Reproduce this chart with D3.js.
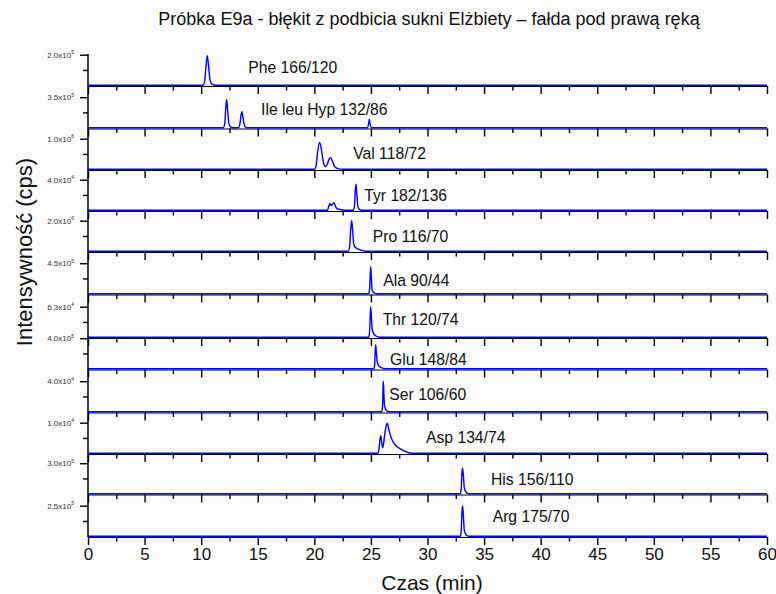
<!DOCTYPE html>
<html>
<head>
<meta charset="utf-8">
<script src="https://cdnjs.cloudflare.com/ajax/libs/d3/7.8.5/d3.min.js"></script>
<style>
body { margin: 0; background: #fbfbfb; }
text { font-family: Arial, "Liberation Sans", sans-serif; }
</style>
</head>
<body>
<div id="chart"></div>
<script>
// channels, top to bottom
var names = ["Phe 166/120", "Ile leu Hyp 132/86", "Val 118/72", "Tyr 182/136", "Pro 116/70", "Ala 90/44",
	"Thr 120/74", "Glu 148/84", "Ser 106/60", "Asp 134/74", "His 156/110", "Arg 175/70"];
var topValue = [2.0e5, 3.5e5, 1.0e6, 4.0e4, 2.0e6, 4.5e5, 6.3e4, 4.0e5, 4.0e4, 1.0e4, 3.0e5, 2.5e5];
var topMant = ["2.0", "3.5", "1.0", "4.0", "2.0", "4.5", "6.3", "4.0", "4.0", "1.0", "3.0", "2.5"];
var topExp = ["5", "5", "6", "4", "6", "5", "4", "5", "4", "4", "5", "5"];
var labelTime = [14.16, 15.29, 23.44, 24.41, 25.16, 26.09, 26.04, 26.69, 26.63, 29.87, 35.61, 35.76];

var majorTicks = [0, 5, 10, 15, 20, 25, 30, 35, 40, 45, 50, 55, 60];
var minorTicks = [2.5, 7.5, 12.5, 17.5, 22.5, 27.5, 32.5, 37.5, 42.5, 47.5, 52.5, 57.5];

// [time (min), intensity (cps)]
var phe = [[0,0],[10.15,0],[10.3,0.2e5],[10.42,1.2e5],[10.54,1.94e5],[10.66,1.2e5],[10.78,0.35e5],[10.95,0.08e5],[11.2,0],[60,0]];
var ile = [[0,0],[11.95,0],[12.08,0.4e5],[12.17,2.2e5],[12.25,3.24e5],[12.34,2.0e5],[12.45,0.5e5],[12.6,0.1e5],[12.8,0],
	[13.3,0],[13.42,0.4e5],[13.52,1.4e5],[13.6,1.85e5],[13.7,1.1e5],[13.82,0.25e5],[14.0,0],
	[24.7,0],[24.8,0.5e5],[24.86,0.98e5],[24.93,0.4e5],[25.05,0],[60,0]];
var val = [[0,0],[20.0,0],[20.15,1.0e5],[20.3,6.0e5],[20.47,8.8e5],[20.62,6.5e5],[20.8,2.2e5],[20.98,0.9e5],
	[21.15,1.6e5],[21.3,3.3e5],[21.44,3.8e5],[21.6,2.6e5],[21.8,0.8e5],[22.1,0.2e5],[22.5,0],[60,0]];
var tyr = [[0,0],[21.15,0],[21.3,0.6e4],[21.38,0.9e4],[21.5,0.6e4],[21.62,0.85e4],[21.75,0.95e4],[21.9,0.4e4],
	[22.05,0.15e4],[22.3,0.1e4],[22.6,0],[23.45,0],[23.55,0.6e4],[23.62,2.6e4],[23.68,3.4e4],[23.75,2.2e4],
	[23.85,0.5e4],[24.0,0.1e4],[24.2,0],[60,0]];
var pro = [[0,0],[23.0,0],[23.12,0.3e6],[23.22,1.5e6],[23.3,2.0e6],[23.38,1.4e6],[23.48,0.5e6],[23.6,0.26e6],
	[23.85,0.15e6],[24.15,0.06e6],[24.5,0],[60,0]];
var ala = [[0,0],[24.8,0],[24.88,0.6e5],[24.94,2.8e5],[24.98,4.0e5],[25.03,2.6e5],[25.1,0.6e5],[25.25,0.15e5],[25.5,0],[60,0]];
var thr = [[0,0],[24.8,0],[24.88,1.0e4],[24.94,4.5e4],[24.98,6.3e4],[25.04,4.2e4],[25.12,1.6e4],[25.25,0.7e4],
	[25.45,0.25e4],[25.8,0],[60,0]];
var glu = [[0,0],[25.25,0],[25.33,0.5e5],[25.38,2.3e5],[25.42,3.1e5],[25.48,2.1e5],[25.56,0.9e5],[25.7,0.35e5],
	[25.95,0.12e5],[26.4,0],[60,0]];
var ser = [[0,0],[25.95,0],[26.02,0.6e4],[26.07,3.0e4],[26.1,4.0e4],[26.14,2.6e4],[26.2,0.8e4],[26.35,0.2e4],[26.6,0],[60,0]];
var asp = [[0,0],[25.6,0],[25.72,1.5e3],[25.8,4.5e3],[25.86,5.75e3],[25.95,3.5e3],[26.05,1.8e3],[26.2,5.5e3],
	[26.35,9.0e3],[26.45,9.8e3],[26.6,7.5e3],[26.8,5.0e3],[27.0,3.5e3],[27.3,2.2e3],[27.6,1.4e3],[27.9,0.8e3],[28.2,0.3e3],[28.6,0],[60,0]];
var his = [[0,0],[32.9,0],[32.98,0.5e5],[33.04,2.0e5],[33.1,2.5e5],[33.17,1.8e5],[33.25,0.6e5],[33.4,0.15e5],[33.65,0],[60,0]];
var arg = [[0,0],[32.9,0],[32.98,0.4e5],[33.04,1.9e5],[33.1,2.5e5],[33.17,1.7e5],[33.25,0.5e5],[33.4,0.12e5],[33.65,0],[60,0]];
var traces = [phe, ile, val, tyr, pro, ala, thr, glu, ser, asp, his, arg];

// layout (px)
var width = 776, height = 594;
var baseY = [86, 128.5, 170, 211, 252, 294.5, 338, 369.5, 412.5, 454, 494.5, 537];
var labelLift = [19, 19, 17, 15.7, 15.7, 14.5, 19, 10.3, 17.7, 16.5, 15, 21];
var panelTop = 31.3;

var svg = d3.select('#chart')
	.append('svg')
	.attr('width', width)
	.attr('height', height)
	.style('background', '#fbfbfb');

var x = d3.scaleLinear().domain([0, 60]).range([88, 767]);

svg.append('text')
	.attr('x', 429)
	.attr('y', 25)
	.attr('text-anchor', 'middle')
	.attr('font-size', 18)
	.attr('fill', '#111')
	.text('Próbka E9a - błękit z podbicia sukni Elżbiety – fałda pod prawą ręką');

var line = d3.line()
	.x(function(d){ return x(d[0]); });

names.forEach(function(name, i) {
	var b = baseY[i];
	var y = d3.scaleLinear().domain([0, topValue[i]]).range([b - 0.8, b - panelTop]);
	var g = svg.append('g');

	// x axis on the panel baseline
	var xa = g.append('g')
		.attr('transform', 'translate(0,' + b + ')')
		.call(d3.axisBottom(x)
			.tickValues(majorTicks.concat(minorTicks))
			.tickSize(8)
			.tickSizeOuter(0)
			.tickFormat(function(d){ return (i === names.length - 1 && d % 5 === 0) ? d : ''; }));
	xa.select('.domain').attr('stroke', '#000').attr('stroke-width', 1);
	xa.selectAll('.tick line')
		.attr('stroke', '#000')
		.attr('stroke-width', 1.4)
		.attr('y2', function(d){ return d % 5 === 0 ? 8 : 4.5; });
	xa.selectAll('.tick text')
		.attr('font-size', 17)
		.attr('fill', '#111')
		.attr('y', 11)
		.attr('font-family', 'Arial, "Liberation Sans", sans-serif');

	// y axis ticks of this panel
	var ya = g.append('g')
		.attr('transform', 'translate(88,0)')
		.call(d3.axisLeft(y)
			.tickValues([topValue[i] / 2, topValue[i]])
			.tickSize(8)
			.tickSizeOuter(0)
			.tickFormat(''));
	ya.select('.domain').remove();
	ya.selectAll('.tick line')
		.attr('stroke', '#000')
		.attr('stroke-width', 1.4)
		.attr('x2', function(d){ return d === topValue[i] ? -8 : -5; });

	var lab = g.append('text')
		.attr('x', 74)
		.attr('y', y(topValue[i]) + 3)
		.attr('text-anchor', 'end')
		.attr('font-size', 8)
		.attr('fill', '#333');
	lab.append('tspan').text(topMant[i] + 'x10');
	lab.append('tspan').attr('font-size', 5).attr('dy', -3.5).text(topExp[i]);

	// trace
	g.append('path')
		.datum(traces[i])
		.attr('fill', 'none')
		.attr('stroke', '#0000ff')
		.attr('stroke-width', 1.4)
		.attr('stroke-linejoin', 'round')
		.attr('d', line.y(function(d){ return y(d[1]); }).curve(d3.curveMonotoneX));

	g.append('text')
		.attr('x', x(labelTime[i]))
		.attr('y', b - labelLift[i] + 5.5)
		.attr('font-size', 15.7)
		.attr('fill', '#111')
		.text(name);
});

// left axis line
svg.append('line')
	.attr('x1', 88).attr('x2', 88)
	.attr('y1', 54).attr('y2', baseY[baseY.length - 1])
	.attr('stroke', '#000')
	.attr('stroke-width', 1.5);

svg.append('text')
	.attr('x', 432)
	.attr('y', 590)
	.attr('text-anchor', 'middle')
	.attr('font-size', 21)
	.attr('fill', '#111')
	.text('Czas (min)');

svg.append('text')
	.attr('transform', 'translate(32,252) rotate(-90)')
	.attr('text-anchor', 'middle')
	.attr('font-size', 22)
	.attr('fill', '#111')
	.text('Intensywność (cps)');
</script>
</body>
</html>
